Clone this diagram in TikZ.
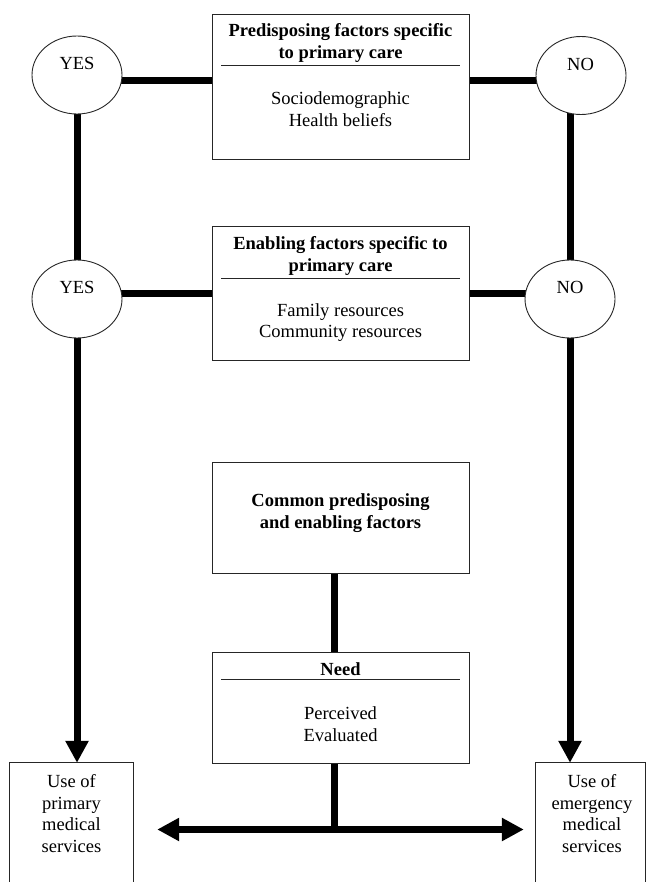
\documentclass[tikz,border=0pt]{standalone}
\usepackage{fontspec}
\setmainfont{Liberation Serif}
\usetikzlibrary{shapes.geometric,arrows.meta,backgrounds,calc}
\begin{document}
\begin{tikzpicture}[x=1pt,y=1pt,
  box/.style={draw=black!85, line width=0.9pt, fill=white, rectangle, minimum width=257pt, inner sep=0pt},
  oval/.style={draw=black!85, line width=0.9pt, fill=white, ellipse, minimum width=90pt, minimum height=78pt, inner sep=0pt},
  txt/.style={font=\fontsize{18.5}{21.5}\selectfont, align=center, inner sep=0pt},
  ttl/.style={font=\fontsize{18.5}{21.5}\selectfont\bfseries, align=center, inner sep=0pt},
  conn/.style={line width=7pt},
  arr/.style={line width=7pt, -{Triangle[length=22pt,width=22pt]}},
  rule/.style={line width=0.9pt, black!85},
  usebox/.style={draw=none, minimum height=119pt, inner sep=0pt},
  useline/.style={draw=black!85, line width=0.9pt}
]
\useasboundingbox (0,0) rectangle (646,-882);

% central boxes
\node[box, minimum height=145pt] (pbox) at (340.5,-86.5) {};
\node[box, minimum height=134pt] (ebox) at (340.5,-293) {};
\node[box, minimum height=111pt] (cbox) at (340.5,-517.5) {};
\node[box, minimum height=111pt] (nbox) at (340.5,-707.5) {};

% ovals
\node[oval] (yes1) at (77,-75) {};
\node[oval] (no1) at (581,-75.5) {};
\node[oval] (yes2) at (77,-299) {};
\node[oval] (no2) at (570,-299) {};
\node[txt] (yes1t) at (77,-63) {YES};
\node[txt] (no1t) at (580.5,-64) {NO};
\node[txt] (yes2t) at (77,-287) {YES};
\node[txt] (no2t) at (570,-287) {NO};

% texts in central boxes
\node[ttl] (ptitle) at (340.5,-43) {Predisposing factors specific\\to primary care};
\draw[rule] (221,-65) -- (460,-65);
\node[txt] (pbody) at (340.5,-109) {Sociodemographic\\Health beliefs};

\node[ttl] (etitle) at (340.5,-256) {Enabling factors specific to\\primary care};
\draw[rule] (221,-278) -- (460,-278);
\node[txt] (ebody) at (340.5,-322.5) {Family resources\\Community resources};

\node[ttl] (ctitle) at (340.5,-513) {Common predisposing\\and enabling factors};

\node[ttl] (ntitle) at (340.5,-669) {Need};
\draw[rule] (221,-679) -- (460,-679);
\node[txt] (nbody) at (340.5,-724) {Perceived\\Evaluated};

% outcome boxes (open at the bottom edge of the picture)
\node[usebox, minimum width=123pt] (prim) at (71.5,-822.5) {};
\draw[useline] (prim.south west) -- (prim.north west) -- (prim.north east) -- (prim.south east);
\node[txt] (primt) at (71.5,-813.5) {Use of\\primary\\medical\\services};
\node[usebox, minimum width=109.5pt] (emer) at (590.75,-822.5) {};
\draw[useline] (emer.south west) -- (emer.north west) -- (emer.north east) -- (emer.south east);
\node[txt] (emert) at (592,-813.5) {Use of\\emergency\\medical\\services};

% connectors
\begin{scope}[on background layer]
\draw[conn] ([yshift=-6pt]yes1.center) -- ([yshift=-6pt]yes1.center -| no1.center);
\draw[conn] ([yshift=6pt]yes2.center) -- ([yshift=6pt]yes2.center -| no2.center);
\draw[conn] (yes1.center) -- (yes2.center);
\draw[conn] (no2.center |- no1.center) -- (no2.center);
\draw[arr] (yes2.center) -- (yes2.center |- prim.north);
\draw[arr] (no2.center) -- (no2.center |- emer.north);
\draw[conn] ([xshift=-6.5pt]cbox.center) -- ([xshift=-6.5pt]nbox.center);
\coordinate (junc) at ($([xshift=-6.5pt]nbox.center |- prim.center)+(0,-7)$);
\draw[conn] ([xshift=-6.5pt]nbox.center) -- (junc);
\draw[arr] (junc) -- ([xshift=24pt]prim.east |- junc);
\draw[arr] (junc) -- ([xshift=-12pt]emer.west |- junc);
\end{scope}
\end{tikzpicture}
\end{document}
